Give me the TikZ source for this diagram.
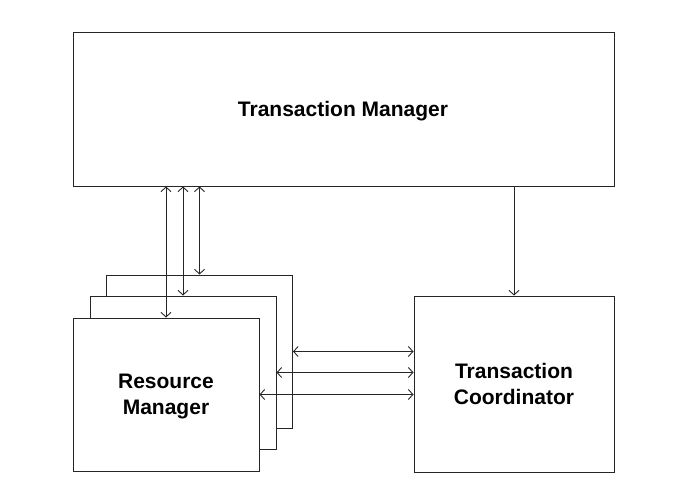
\documentclass[tikz,border=0pt]{standalone}
\usepackage{fontspec}
\setmainfont{Liberation Sans}
\usetikzlibrary{positioning,arrows.meta}

\begin{document}
\begin{tikzpicture}[x=1pt,y=-1pt]
  \tikzset{
    box/.style={draw=black!85, line width=1pt, fill=white, inner sep=0pt,
      align=center, font=\bfseries\fontsize{21}{26}\selectfont},
    rmbox/.style={box, minimum width=186pt, minimum height=153pt},
    link/.style={line width=0.9pt, draw=black!85,
      >={Straight Barb[length=4.5pt,width=10pt]}},
  }
  \useasboundingbox (0,0) rectangle (678,487);
  % upper box
  \node[box, minimum width=541pt, minimum height=153pt] (tm) at (343.5,109.5) {};
  \node[font=\bfseries\fontsize{21}{26}\selectfont] (tmtext) at (343,111)
    {Transaction Manager};
  % resource managers, stacked from back to front
  \node[rmbox] (rm3) at (199.5,351.5) {};
  \node[rmbox] (rm2) at (183,372.5) {};
  \node[rmbox] (rm1) at (166,394.5) {};
  \node[align=center, font=\bfseries\fontsize{21}{26}\selectfont] (rmtext)
    at (166,396) {Resource\\Manager};
  \node[box, minimum width=200pt, minimum height=176pt] (tc) at (514,384)
    {Transaction\\Coordinator};
  % links
  \foreach \r in {rm1,rm2,rm3} {
    \draw[link, <->] (tm.south -| \r.north) -- (\r.north);
    \draw[link, <->] (\r.east) -- (\r.east -| tc.west);
  }
  \draw[link, ->] (tm.south -| tc.north) -- (tc.north);
\end{tikzpicture}
\end{document}
